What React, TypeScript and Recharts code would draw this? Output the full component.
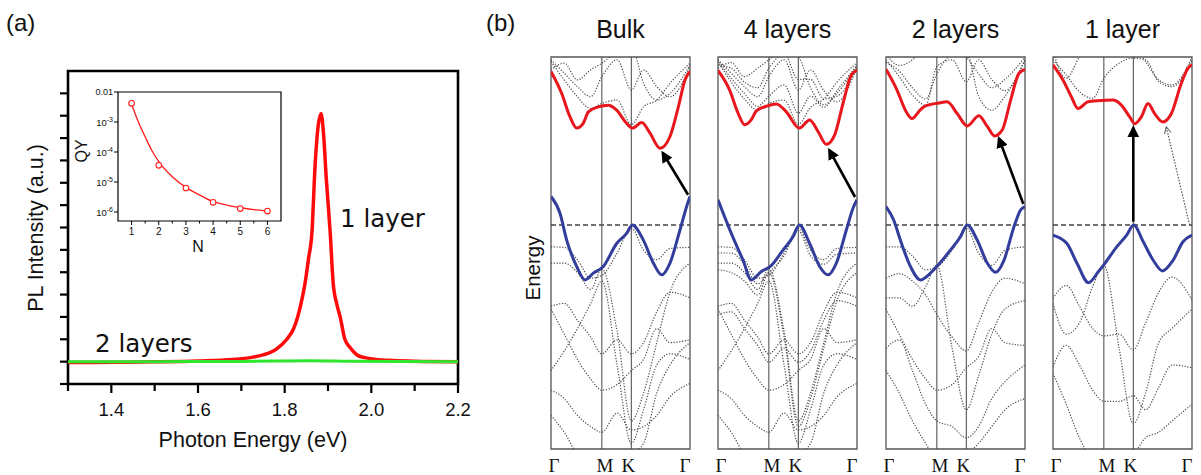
import React from 'react';
import { LineChart, ComposedChart, Line, Scatter, XAxis, YAxis, ReferenceLine, ReferenceArea } from 'recharts';

// ---------- Panel (a): PL spectra ----------
const PL1_E = [1.30, 1.40, 1.50, 1.60, 1.68, 1.72, 1.75, 1.78, 1.805, 1.82, 1.83, 1.84, 1.847, 1.855, 1.863, 1.870, 1.877, 1.884, 1.89, 1.896, 1.905, 1.912, 1.92, 1.928, 1.939, 1.95, 1.967, 1.985, 2.01, 2.05, 2.10, 2.20];
const PL1_I = [-0.04, -0.03, -0.01, 0.03, 0.1, 0.18, 0.3, 0.55, 1.0, 1.45, 2.0, 2.8, 3.5, 4.6, 5.8, 8.7, 10.5, 11.1, 10.1, 8.2, 5.8, 3.5, 2.6, 2.0, 1.0, 0.65, 0.3, 0.18, 0.1, 0.05, 0.02, 0.0];
const PL2_E = [1.30, 1.50, 1.70, 1.86, 1.95, 2.20];
const PL2_I = [0.0, 0.0, 0.01, 0.04, 0.02, 0.0];
const MAIN_X_TICKS = [1.3, 1.4, 1.5, 1.6, 1.7, 1.8, 1.9, 2.0, 2.1, 2.2];
const MAIN_Y_TICKS = [-1, 0, 1, 2, 3, 4, 5, 6, 7, 8, 9, 10, 11, 12];

// inset: QY vs N
const QY_N = [1, 2, 3, 4, 5, 6];
const QY_V = [4.2e-3, 3.6e-5, 6.3e-6, 2.1e-6, 1.3e-6, 1.07e-6];
const FIT_N = [1, 1.25, 1.5, 1.75, 2, 2.5, 3, 3.5, 4, 4.5, 5, 5.5, 6];
const FIT_V = [4.0e-3, 1.0e-3, 3.2e-4, 1.1e-4, 4.8e-5, 1.5e-5, 6.6e-6, 3.7e-6, 2.2e-6, 1.7e-6, 1.4e-6, 1.2e-6, 1.08e-6];
const INSET_X_TICKS = [1, 1.5, 2, 2.5, 3, 3.5, 4, 4.5, 5, 5.5, 6];
const INSET_Y_TICKS = [1e-6, 1e-5, 1e-4, 1e-3, 1e-2];

// ---------- Panel (b): band structures ----------
const K_PTS = [0, 0.577, 0.911, 1.577];
const K_LABELS = ['Γ', 'M', 'K', 'Γ'];
const K_S = [0, 0.15, 0.3, 0.45, 0.577, 0.75, 0.911, 1.05, 1.2, 1.35, 1.577];
const TITLES = ['Bulk', '4 layers', '2 layers', '1 layer'];

// Bulk
const BULK_RED_K = [0, 0.121, 0.216, 0.291, 0.367, 0.424, 0.537, 0.65, 0.745, 0.84, 0.923, 1.03, 1.123, 1.237, 1.35, 1.445, 1.52, 1.577];
const BULK_RED_E = [2.74, 2.35, 1.93, 1.73, 1.82, 2.02, 2.11, 2.14, 2.05, 1.85, 1.73, 1.83, 1.64, 1.37, 1.58, 2.11, 2.59, 2.74];
const BULK_BLUE_K = [0, 0.102, 0.178, 0.291, 0.386, 0.48, 0.594, 0.745, 0.858, 0.923, 1.048, 1.161, 1.256, 1.35, 1.463, 1.539, 1.577];
const BULK_BLUE_E = [0.51, 0.21, -0.27, -0.74, -0.98, -0.86, -0.74, -0.33, -0.15, 0, -0.27, -0.68, -0.89, -0.68, -0.09, 0.33, 0.51];
const BULK_UP = [
  [2.92, 2.59, 2.29, 2.08, 2.17, 2.23, 1.79, 2.11, 2.23, 2.53, 2.89],
  [2.95, 2.71, 2.47, 2.29, 2.65, 2.95, 2.41, 2.77, 2.47, 2.29, 2.83],
  [2.77, 2.89, 2.59, 2.77, 2.89, 3.10, 3.20, 2.53, 2.23, 2.35, 2.86],
];
const BULK_LOW = [
  [-0.39, -0.40, -0.62, -0.95, -0.90, -0.50, -0.05, -0.45, -0.62, -0.42, -0.40],
  [-0.68, -0.68, -0.85, -1.15, -0.78, -1.90, -3.50, -3.00, -2.10, -1.20, -0.68],
  [-1.45, -1.40, -1.70, -2.00, -2.30, -2.05, -2.30, -2.10, -1.55, -1.20, -1.30],
  [-2.60, -2.25, -1.85, -1.40, -1.00, -2.50, -3.90, -3.30, -2.50, -2.30, -2.40],
  [-1.50, -1.95, -2.40, -2.75, -2.95, -2.85, -2.60, -2.40, -1.85, -2.10, -2.05],
  [-2.95, -3.10, -3.40, -3.60, -3.70, -3.36, -3.66, -3.60, -3.40, -3.07, -2.83],
  [-3.40, -3.70, -4.10, -4.30, -4.30, -4.20, -4.10, -3.90, -3.00, -2.50, -2.10],
];

// 4 layers
const FOUR_RED_K = [0, 0.132, 0.227, 0.303, 0.378, 0.435, 0.55, 0.662, 0.775, 0.923, 1.04, 1.135, 1.229, 1.324, 1.418, 1.513, 1.577];
const FOUR_RED_E = [2.76, 2.41, 2.0, 1.79, 1.88, 2.04, 2.12, 2.16, 2.02, 1.73, 1.875, 1.67, 1.44, 1.61, 2.17, 2.68, 2.76];
const FOUR_BLUE_K = [0, 0.151, 0.284, 0.378, 0.492, 0.594, 0.737, 0.851, 0.923, 1.04, 1.153, 1.248, 1.343, 1.456, 1.532, 1.577];
const FOUR_BLUE_E = [0.45, -0.15, -0.63, -0.98, -0.83, -0.74, -0.45, -0.21, 0, -0.33, -0.74, -0.89, -0.68, -0.09, 0.3, 0.45];
const FOUR_UP = [
  [2.92, 2.55, 2.25, 2.05, 2.17, 2.23, 1.80, 2.10, 2.25, 2.55, 2.90],
  [2.95, 2.62, 2.35, 2.12, 2.30, 2.50, 2.00, 2.30, 2.10, 2.40, 2.85],
  [2.95, 2.71, 2.47, 2.29, 2.65, 2.95, 2.41, 2.77, 2.40, 2.20, 2.83],
  [2.85, 2.80, 2.55, 2.45, 2.80, 3.05, 2.60, 2.60, 2.25, 2.30, 2.80],
  [2.80, 2.90, 2.65, 2.80, 2.95, 3.10, 3.00, 2.45, 2.15, 2.35, 2.86],
];
const FOUR_LOW = [
  [-0.39, -0.40, -0.62, -0.95, -0.90, -0.50, -0.05, -0.45, -0.62, -0.42, -0.40],
  [-0.50, -0.50, -0.70, -1.05, -0.85, -0.55, -0.10, -0.55, -0.70, -0.52, -0.50],
  [-0.68, -0.68, -0.85, -1.15, -0.78, -1.90, -3.50, -3.00, -2.10, -1.20, -0.68],
  [-0.80, -0.85, -1.00, -1.25, -0.85, -2.00, -3.60, -3.10, -2.20, -1.35, -0.85],
  [-1.45, -1.40, -1.70, -2.00, -2.30, -2.05, -2.30, -2.10, -1.55, -1.20, -1.30],
  [-1.60, -1.55, -1.85, -2.15, -2.45, -2.20, -2.45, -2.25, -1.70, -1.35, -1.45],
  [-2.60, -2.25, -1.85, -1.40, -1.00, -2.50, -3.90, -3.30, -2.50, -2.30, -2.40],
  [-1.50, -1.95, -2.40, -2.75, -2.95, -2.85, -2.60, -2.40, -1.85, -2.10, -2.05],
  [-2.95, -3.10, -3.40, -3.60, -3.70, -3.36, -3.66, -3.60, -3.40, -3.07, -2.83],
  [-3.40, -3.70, -4.10, -4.30, -4.30, -4.20, -4.10, -3.90, -3.00, -2.50, -2.10],
];

// 2 layers
const TWO_RED_K = [0, 0.125, 0.22, 0.296, 0.37, 0.428, 0.6, 0.694, 0.807, 0.921, 1.054, 1.149, 1.232, 1.32, 1.414, 1.509, 1.577];
const TWO_RED_E = [2.78, 2.41, 2.05, 1.9, 2.02, 2.11, 2.18, 2.2, 1.99, 1.77, 1.95, 1.76, 1.59, 1.7, 2.23, 2.71, 2.78];
const TWO_BLUE_K = [0, 0.087, 0.163, 0.277, 0.39, 0.504, 0.6, 0.73, 0.845, 0.921, 1.035, 1.149, 1.243, 1.338, 1.452, 1.528, 1.577];
const TWO_BLUE_E = [0.33, 0.09, -0.27, -0.74, -0.98, -0.86, -0.70, -0.45, -0.21, 0, -0.27, -0.68, -0.845, -0.63, -0.03, 0.27, 0.33];
const TWO_UP = [
  [2.95, 2.65, 2.32, 2.14, 2.83, 2.95, 2.56, 2.95, 2.60, 2.40, 2.95],
  [2.90, 2.75, 2.45, 2.25, 2.70, 3.05, 3.10, 2.30, 2.05, 2.30, 2.95],
  [3.05, 2.85, 2.95, 3.20, 3.30, 3.20, 3.00, 2.70, 2.45, 2.60, 3.00],
];
const TWO_LOW = [
  [-0.39, -0.39, -0.55, -0.80, -0.75, -0.45, -0.05, -0.50, -0.72, -0.45, -0.39],
  [-0.95, -0.87, -1.00, -1.25, -1.60, -2.00, -2.25, -1.75, -1.20, -0.95, -1.05],
  [-1.30, -1.30, -1.45, -1.10, -0.72, -2.20, -3.30, -2.70, -1.95, -1.50, -1.35],
  [-1.50, -1.95, -2.40, -2.75, -2.95, -2.85, -2.55, -2.35, -1.85, -2.10, -2.15],
  [-2.20, -2.05, -2.60, -3.20, -3.50, -3.60, -3.80, -3.60, -3.10, -2.80, -2.50],
  [-2.60, -3.00, -3.50, -3.90, -4.20, -4.30, -4.10, -3.90, -3.60, -3.30, -3.10],
];

// 1 layer
const ONE_RED_K = [0, 0.113, 0.208, 0.284, 0.397, 0.51, 0.68, 0.775, 0.87, 0.927, 1.002, 1.078, 1.153, 1.248, 1.343, 1.456, 1.532, 1.577];
const ONE_RED_E = [2.86, 2.59, 2.29, 2.08, 2.2, 2.22, 2.23, 2.14, 1.93, 1.81, 1.93, 2.17, 1.99, 1.84, 1.99, 2.53, 2.8, 2.86];
const ONE_BLUE_K = [0, 0.158, 0.271, 0.403, 0.516, 0.591, 0.723, 0.836, 0.915, 1.024, 1.137, 1.242, 1.362, 1.475, 1.577];
const ONE_BLUE_E = [-0.18, -0.33, -0.68, -1.03, -0.83, -0.68, -0.39, -0.18, 0, -0.3, -0.63, -0.82, -0.63, -0.3, -0.18];
const ONE_UP = [
  [2.95, 2.68, 2.38, 2.26, 2.62, 2.89, 2.98, 2.95, 2.56, 2.47, 2.95],
  [3.10, 2.62, 3.00, 3.30, 3.40, 3.40, 3.20, 2.92, 2.59, 2.50, 3.00],
];
const ONE_LOW = [
  [-1.31, -1.08, -1.45, -1.85, -1.98, -1.95, -2.23, -1.75, -1.20, -0.93, -1.34],
  [-1.40, -1.95, -1.75, -1.10, -0.72, -2.20, -3.55, -3.00, -2.10, -1.85, -1.50],
  [-2.53, -2.15, -2.50, -2.95, -3.15, -3.15, -3.05, -3.30, -2.90, -2.50, -2.55],
  [-2.65, -3.20, -3.80, -4.20, -4.30, -4.20, -4.10, -3.80, -3.70, -3.50, -3.20],
];

// arrows: [k0, e0, k1, e1, dotted?]
const ARROWS_BULK = [[1.555, 0.54, 1.267, 1.29, 0]];
const ARROWS_FOUR = [[1.555, 0.50, 1.262, 1.34, 0]];
const ARROWS_TWO = [[1.558, 0.375, 1.281, 1.55, 0]];
const ARROWS_ONE = [[0.911, 0.06, 0.911, 1.74, 0], [1.55, 0.0, 1.287, 1.74, 1]];

const PANEL_LEFTS = [551, 718, 886, 1053];

const zip = (ks: number[], es: number[]) => ks.map((k, i) => ({ k, e: es[i] }));

const SANS = 'Arial, "Liberation Sans", sans-serif';

const renderMainXTick = (p: any) => {
  const v = p.payload.value;
  const major = Math.round(v * 10) % 2 === 0;
  return (
    <g key={`mx${v}`}>
      <line x1={p.x} x2={p.x} y1={p.y} y2={p.y + (major ? 9 : 7)} stroke="#000" strokeWidth={2.2} />
      {major && (
        <text x={p.x} y={p.y + 32} textAnchor="middle" fontSize={18.5} fontFamily={SANS} fill="#111">
          {v.toFixed(1)}
        </text>
      )}
    </g>
  );
};

const renderMainYTick = (p: any) => (
  <line key={`my${p.payload.value}`} x1={p.x} x2={p.x - 8} y1={p.y} y2={p.y} stroke="#000" strokeWidth={2.2} />
);

const renderInsetXTick = (p: any) => {
  const v = p.payload.value;
  const major = Number.isInteger(v);
  return (
    <g key={`ix${v}`}>
      <line x1={p.x} x2={p.x} y1={p.y} y2={p.y + (major ? 4 : 2.5)} stroke="#000" strokeWidth={1} />
      {major && (
        <text x={p.x} y={p.y + 14} textAnchor="middle" fontSize={10} fontFamily={SANS} fill="#111">
          {v}
        </text>
      )}
    </g>
  );
};

const renderInsetYTick = (p: any) => {
  const v = p.payload.value;
  const exp = Math.round(Math.log10(v));
  return (
    <g key={`iy${exp}`}>
      <line x1={p.x} x2={p.x - 4} y1={p.y} y2={p.y} stroke="#000" strokeWidth={1} />
      {exp === -2 ? (
        <text x={p.x - 5} y={p.y + 3} textAnchor="end" fontSize={9} fontFamily={SANS} fill="#111">0.01</text>
      ) : (
        <text x={p.x - 5} y={p.y + 4} textAnchor="end" fontSize={9.5} fontFamily={SANS} fill="#111">
          10<tspan dy={-4} fontSize={7}>{String(exp)}</tspan>
        </text>
      )}
    </g>
  );
};

const renderGTick = (p: any) => {
  const v = p.payload.value;
  const i = K_PTS.findIndex((x) => Math.abs(x - v) < 1e-6);
  const offs = [3, 3, -3, -5];
  return (
    <text key={`g${i}`} x={p.x + offs[i]} y={p.y + 23} textAnchor="middle" fontSize={19}
      fontFamily='"Liberation Serif", "Times New Roman", serif' fill="#111">
      {K_LABELS[i]}
    </text>
  );
};

type PanelProps = {
  idx: number;
  redK: number[]; redE: number[];
  blueK: number[]; blueE: number[];
  up: number[][]; low: number[][];
  arrows: number[][];
};

const BandPanel = ({ idx, redK, redE, blueK, blueE, up, low, arrows }: PanelProps) => {
  const left = PANEL_LEFTS[idx];
  const bands = [...up, ...low];
  return (
    <div style={{ position: 'absolute', left: left - 20, top: 0 }}>
      <LineChart width={179} height={475} margin={{ top: 57, bottom: 0, left: 20, right: 20 }}>
        <defs>
          <marker id={`ah${idx}`} viewBox="0 0 10 10" refX="8" refY="5" markerWidth="4.5" markerHeight="4.5" orient="auto">
            <path d="M0,0 L10,5 L0,10 z" fill="#000" />
          </marker>
          <marker id={`ahd${idx}`} viewBox="0 0 10 10" refX="8" refY="5" markerWidth="7" markerHeight="7" orient="auto">
            <path d="M1,1 L9,5 L1,9" fill="none" stroke="#555" strokeWidth="1.2" />
          </marker>
        </defs>
        <XAxis dataKey="k" type="number" domain={[0, 1.577]} ticks={K_PTS} interval={0} allowDataOverflow
          height={26} axisLine={false} tickLine={false} tickSize={0} tickMargin={0} tick={renderGTick} />
        <YAxis type="number" domain={[-4, 3]} allowDataOverflow hide />
        {bands.map((b, i) => (
          <Line key={`g${i}`} data={zip(K_S, b)} dataKey="e" type="monotone" stroke="#4a4a4a" strokeWidth={1.2}
            strokeDasharray="1.2 1.6" dot={false} isAnimationActive={false} />
        ))}
        <ReferenceLine x={0.577} stroke="#444" strokeWidth={1} />
        <ReferenceLine x={0.911} stroke="#444" strokeWidth={1} />
        <ReferenceLine y={0} stroke="#444" strokeWidth={1.4} strokeDasharray="5 3" />
        <Line data={zip(redK, redE)} dataKey="e" type="monotone" stroke="#e8161d" strokeWidth={3} dot={false} isAnimationActive={false} />
        <Line data={zip(blueK, blueE)} dataKey="e" type="monotone" stroke="#323d9c" strokeWidth={3} dot={false} isAnimationActive={false} />
        {arrows.map((a, i) => (
          <ReferenceLine key={`a${i}`} segment={[{ x: a[0], y: a[1] }, { x: a[2], y: a[3] }]}
            stroke={a[4] ? '#555' : '#000'} strokeWidth={a[4] ? 1.2 : 2.6}
            strokeDasharray={a[4] ? '1.5 1.5' : undefined}
            markerEnd={a[4] ? `url(#ahd${idx})` : `url(#ah${idx})`} ifOverflow="visible" />
        ))}
        <ReferenceArea x1={0} x2={1.577} y1={-4} y2={3} fill="none" stroke="#555" strokeWidth={1.3} ifOverflow="visible" />
      </LineChart>
    </div>
  );
};

export default function App() {
  const pl1 = zip(PL1_E, PL1_I).map((d) => ({ x: d.k, y: d.e }));
  const pl2 = zip(PL2_E, PL2_I).map((d) => ({ x: d.k, y: d.e }));
  const qy = QY_N.map((n, i) => ({ n, q: QY_V[i] }));
  const fit = FIT_N.map((n, i) => ({ n, q: FIT_V[i] }));

  return (
    <div style={{ position: 'fixed', left: 0, top: 0, width: 1201, height: 475, background: '#fff', overflow: 'hidden' }}>
      {/* Panel (a) main */}
      <div style={{ position: 'absolute', left: 0, top: 0 }}>
        <LineChart width={500} height={475} margin={{ top: 71, bottom: 51, left: 58, right: 42 }}>
          <XAxis dataKey="x" type="number" domain={[1.3, 2.2]} ticks={MAIN_X_TICKS} interval={0} allowDataOverflow
            height={40} tickSize={0} tickMargin={0} tickLine={false} axisLine={false} tick={renderMainXTick} />
          <YAxis type="number" domain={[-1, 13]} ticks={MAIN_Y_TICKS} interval={0} allowDataOverflow
            width={10} tickSize={0} tickMargin={0} tickLine={false} axisLine={false} tick={renderMainYTick} />
          <Line data={pl1} dataKey="y" type="monotone" stroke="#ff0a0a" strokeWidth={3.5} dot={false} isAnimationActive={false} />
          <Line data={pl2} dataKey="y" type="monotone" stroke="#2ee62e" strokeWidth={3} dot={false} isAnimationActive={false} />
          <ReferenceArea x1={1.3} x2={2.2} y1={-1} y2={13} fill="none" stroke="#000" strokeWidth={2.6} ifOverflow="visible" />
        </LineChart>
      </div>

      {/* Panel (a) inset */}
      <div style={{ position: 'absolute', left: 60, top: 80 }}>
        <ComposedChart width={230} height={175} margin={{ top: 12, bottom: 14, left: 48, right: 9 }}>
          <XAxis dataKey="n" type="number" domain={[0.5, 6.5]} ticks={INSET_X_TICKS} interval={0} allowDataOverflow
            height={20} tickSize={0} tickMargin={0} tickLine={false} axisLine={false} tick={renderInsetXTick} />
          <YAxis dataKey="q" type="number" scale="log" domain={[5.01e-7, 1e-2]} ticks={INSET_Y_TICKS} interval={0} allowDataOverflow
            width={10} tickSize={0} tickMargin={0} tickLine={false} axisLine={false} tick={renderInsetYTick} />
          <Line data={fit} dataKey="q" type="monotone" stroke="#ff1a1a" strokeWidth={1.3} dot={false} isAnimationActive={false} />
          <Scatter data={qy} dataKey="q" isAnimationActive={false}
            shape={(p: any) => <circle cx={p.cx} cy={p.cy} r={2.8} fill="#fff" stroke="#ff1a1a" strokeWidth={1.1} />} />
          <ReferenceArea x1={0.5} x2={6.5} y1={5.01e-7} y2={1e-2} fill="none" stroke="#000" strokeWidth={1.2} ifOverflow="visible" />
        </ComposedChart>
      </div>

      {/* Panel (b) */}
      <BandPanel idx={0} redK={BULK_RED_K} redE={BULK_RED_E} blueK={BULK_BLUE_K} blueE={BULK_BLUE_E} up={BULK_UP} low={BULK_LOW} arrows={ARROWS_BULK} />
      <BandPanel idx={1} redK={FOUR_RED_K} redE={FOUR_RED_E} blueK={FOUR_BLUE_K} blueE={FOUR_BLUE_E} up={FOUR_UP} low={FOUR_LOW} arrows={ARROWS_FOUR} />
      <BandPanel idx={2} redK={TWO_RED_K} redE={TWO_RED_E} blueK={TWO_BLUE_K} blueE={TWO_BLUE_E} up={TWO_UP} low={TWO_LOW} arrows={ARROWS_TWO} />
      <BandPanel idx={3} redK={ONE_RED_K} redE={ONE_RED_E} blueK={ONE_BLUE_K} blueE={ONE_BLUE_E} up={ONE_UP} low={ONE_LOW} arrows={ARROWS_ONE} />

      {/* Text overlay */}
      <svg width={1201} height={475} style={{ position: 'absolute', left: 0, top: 0, pointerEvents: 'none' }}>
        <g fontFamily={SANS} fill="#111">
          <text x={6} y={31} fontSize={24}>(a)</text>
          <text x={486} y={31} fontSize={24}>(b)</text>
          <text x={253} y={447} fontSize={21.5} textAnchor="middle">Photon Energy (eV)</text>
          <text transform="translate(43,228) rotate(-90)" fontSize={21.5} textAnchor="middle">PL Intensity (a.u.)</text>
          <text transform="translate(87,151) rotate(-90)" fontSize={16} textAnchor="middle">QY</text>
          <text x={198} y={252} fontSize={16} textAnchor="middle">N</text>
          <text transform="translate(540,268) rotate(-90)" fontSize={20.5} textAnchor="middle">Energy</text>
          {TITLES.map((t, i) => (
            <text key={t} x={PANEL_LEFTS[i] + 69.5} y={38} fontSize={25} textAnchor="middle">{t}</text>
          ))}
        </g>
        <g fontFamily='"DejaVu Sans", Verdana, sans-serif' fill="#111">
          <text x={340} y={227} fontSize={24.5}>1 layer</text>
          <text x={95} y={352} fontSize={24.5}>2 layers</text>
        </g>
      </svg>
    </div>
  );
}
